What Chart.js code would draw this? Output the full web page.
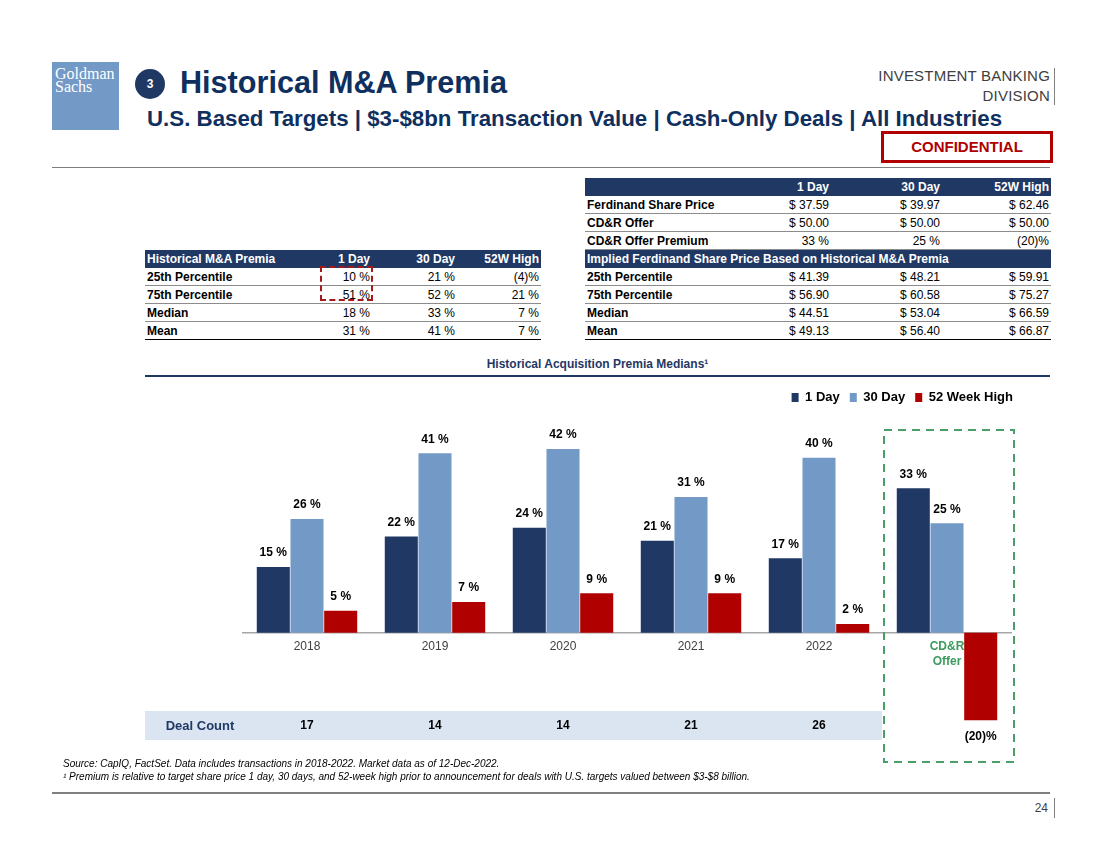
<!DOCTYPE html>
<html>
<head>
<meta charset="utf-8">
<script src="https://cdn.jsdelivr.net/npm/chart.js@4.4.1/dist/chart.umd.min.js"></script>
<style>
  body { margin:0; width:1100px; height:849px; position:relative; background:#fff; overflow:hidden;
         font-family: Arial, "Liberation Sans", sans-serif; color:#000; }
  .abs { position:absolute; }
  .logo { left:52px; top:62px; width:67px; height:68px; background:#7399c6; color:#fff;
          font-family:"Liberation Serif", serif; font-size:16px; line-height:13px; padding:5px 0 0 3px; box-sizing:border-box; }
  .badge { left:135px; top:69px; width:30px; height:30px; border-radius:50%; background:#1f3864; color:#fff;
           font-size:12px; font-weight:bold; text-align:center; line-height:30px; }
  .title { left:180px; top:65px; font-size:30.6px; font-weight:bold; color:#0f2f5f; white-space:nowrap; }
  .subtitle { left:147px; top:106px; font-size:22.3px; font-weight:bold; color:#0f2f5f; white-space:nowrap; }
  .ibd { right:50px; top:66px; text-align:right; font-size:15px; line-height:20px; color:#404040; letter-spacing:0.2px; }
  .ibd-bar { left:1054px; top:68px; width:1px; height:37px; background:#808080; }
  .conf { left:881px; top:131px; width:172px; height:32px; border:3px solid #b00000; box-sizing:border-box;
          color:#b00000; font-weight:bold; font-size:15px; text-align:center; line-height:26px; }
  .rule { left:52px; width:998px; height:1px; background:#7f7f7f; }
  table { border-collapse:collapse; font-size:12px; table-layout:fixed; }
  td { height:17px; padding:0 2px; white-space:nowrap; border-bottom:1px solid #8c8c8c; }
  td.num { text-align:right; }
  td.lab { font-weight:bold; }
  tr.head td { background:#1f3864; color:#fff; font-weight:bold; border-bottom:1px solid #1f3864; }
  tr.last td { border-bottom:1.5px solid #000; }
  .box-red { left:320px; top:266px; width:53px; height:35px; border:2px dashed #a31a1a; box-sizing:border-box; }
  .ctitle { left:145px; width:905px; top:357px; text-align:center; font-size:12px; font-weight:bold; color:#1f3864; }
  .cline { left:145px; top:375px; width:905px; height:2px; background:#1f3864; }
  .chartbox { left:140px; top:370px; width:883px; height:400px; }
  .foot { left:63px; font-size:10px; font-style:italic; white-space:nowrap; color:#000; }
  .pnum { left:1000px; width:48px; top:801px; text-align:right; font-size:12px; color:#404040; }
  .pbar { left:1054px; top:798px; width:1px; height:20px; background:#808080; }
</style>
</head>
<body>
<div class="abs logo">Goldman<br>Sachs</div>
<div class="abs badge">3</div>
<div class="abs title">Historical M&amp;A Premia</div>
<div class="abs subtitle">U.S. Based Targets | $3-$8bn Transaction Value | Cash-Only Deals | All Industries</div>
<div class="abs ibd">INVESTMENT BANKING<br>DIVISION</div>
<div class="abs ibd-bar"></div>
<div class="abs conf">CONFIDENTIAL</div>
<div class="abs rule" style="top:167px"></div>

<table class="abs" id="leftTable" style="left:145px; top:250px; width:396px;">
  <colgroup><col style="width:175px"><col style="width:52px"><col style="width:85px"><col style="width:84px"></colgroup>
</table>
<div class="abs box-red"></div>

<table class="abs" id="rightTable" style="left:585px; top:178px; width:466px;">
  <colgroup><col style="width:135px"><col style="width:111px"><col style="width:111px"><col style="width:109px"></colgroup>
</table>

<div class="abs ctitle">Historical Acquisition Premia Medians¹</div>
<div class="abs cline"></div>

<div class="abs chartbox"><canvas id="premiaChart"></canvas></div>

<div class="abs foot" style="top:758px">Source: CapIQ, FactSet. Data includes transactions in 2018-2022. Market data as of 12-Dec-2022.</div>
<div class="abs foot" style="top:771px">¹ Premium is relative to target share price 1 day, 30 days, and 52-week high prior to announcement for deals with U.S. targets valued between $3-$8 billion.</div>
<div class="abs rule" style="top:792px; height:2px; background:#808080"></div>
<div class="abs pnum">24</div>
<div class="abs pbar"></div>

<script>
// chart data
const years = ['2018', '2019', '2020', '2021', '2022', ['CD&R', 'Offer']];
const oneDay = [15, 22, 24, 21, 17, 33];
const thirtyDay = [26, 41, 42, 31, 40, 25];
const week52High = [5, 7, 9, 9, 2, -20];
const dealCounts = [17, 14, 14, 21, 26];

// left table
const premiaCols = ['1 Day', '30 Day', '52W High'];
const premiaRows = ['25th Percentile', '75th Percentile', 'Median', 'Mean'];
const premia1Day = ['10 %', '51 %', '18 %', '31 %'];
const premia30Day = ['21 %', '52 %', '33 %', '41 %'];
const premia52W = ['(4)%', '21 %', '7 %', '7 %'];

// right table
const offerRows = ['Ferdinand Share Price', 'CD&R Offer', 'CD&R Offer Premium'];
const offer1Day = ['$ 37.59', '$ 50.00', '33 %'];
const offer30Day = ['$ 39.97', '$ 50.00', '25 %'];
const offer52W = ['$ 62.46', '$ 50.00', '(20)%'];
const impliedRows = ['25th Percentile', '75th Percentile', 'Median', 'Mean'];
const implied1Day = ['$ 41.39', '$ 56.90', '$ 44.51', '$ 49.13'];
const implied30Day = ['$ 48.21', '$ 60.58', '$ 53.04', '$ 56.40'];
const implied52W = ['$ 59.91', '$ 75.27', '$ 66.59', '$ 66.87'];

function row(cells, cls) {
    const tr = document.createElement('tr');
    if (cls) tr.className = cls;
    cells.forEach(function(c, i) {
        const td = document.createElement('td');
        td.textContent = c;
        td.className = i === 0 ? 'lab' : 'num';
        tr.appendChild(td);
    });
    return tr;
}

const lt = document.getElementById('leftTable');
lt.appendChild(row(['Historical M&A Premia'].concat(premiaCols), 'head'));
premiaRows.forEach(function(r, i) {
    lt.appendChild(row([r, premia1Day[i], premia30Day[i], premia52W[i]], i === premiaRows.length - 1 ? 'last' : ''));
});

const rt = document.getElementById('rightTable');
rt.appendChild(row([''].concat(premiaCols), 'head'));
offerRows.forEach(function(r, i) {
    rt.appendChild(row([r, offer1Day[i], offer30Day[i], offer52W[i]]));
});
const sub = document.createElement('tr');
sub.className = 'head';
const subTd = document.createElement('td');
subTd.colSpan = 4;
subTd.textContent = 'Implied Ferdinand Share Price Based on Historical M&A Premia';
sub.appendChild(subTd);
rt.appendChild(sub);
impliedRows.forEach(function(r, i) {
    rt.appendChild(row([r, implied1Day[i], implied30Day[i], implied52W[i]], i === impliedRows.length - 1 ? 'last' : ''));
});

function pct(v) {
    return v < 0 ? '(' + (-v) + ')%' : v + ' %';
}

const slideExtras = {
    id: 'slideExtras',
    beforeDraw(chart) {
        const ctx = chart.ctx;
        const x = chart.scales.x;
        const half = (x.getPixelForValue(1) - x.getPixelForValue(0)) / 2;
        const bandRight = x.getPixelForValue(5) - half;
        ctx.save();
        ctx.fillStyle = '#dbe5f1';
        ctx.fillRect(5, 341, bandRight - 6, 29);
        ctx.textAlign = 'center';
        ctx.textBaseline = 'middle';
        ctx.fillStyle = '#1f3864';
        ctx.font = 'bold 13px Arial, "Liberation Sans"';
        ctx.fillText('Deal Count', 60, 356);
        ctx.fillStyle = '#000';
        ctx.font = 'bold 12px Arial, "Liberation Sans"';
        dealCounts.forEach(function(c, i) {
            ctx.fillText(String(c), x.getPixelForValue(i), 356);
        });
        ctx.restore();
    },
    afterDatasetsDraw(chart) {
        const ctx = chart.ctx;
        const x = chart.scales.x;
        ctx.save();
        ctx.font = 'bold 12px Arial, "Liberation Sans"';
        ctx.fillStyle = '#000';
        ctx.textAlign = 'center';
        ctx.textBaseline = 'middle';
        chart.data.datasets.forEach(function(ds, di) {
            chart.getDatasetMeta(di).data.forEach(function(bar, i) {
                const v = ds.data[i];
                ctx.fillText(pct(v), bar.x, v < 0 ? bar.y + 17 : bar.y - 14);
            });
        });
        // dashed box round the offer group
        const half = (x.getPixelForValue(1) - x.getPixelForValue(0)) / 2;
        const cx = x.getPixelForValue(5);
        ctx.strokeStyle = '#4a9e68';
        ctx.lineWidth = 2;
        ctx.setLineDash([8, 6]);
        ctx.strokeRect(cx - half + 1, 60, 2 * half + 2, 332);
        ctx.restore();
    }
};

Chart.defaults.font.family = 'Arial, "Liberation Sans", sans-serif';

new Chart(document.getElementById('premiaChart'), {
    type: 'bar',
    data: {
        labels: years,
        datasets: [
            { label: '1 Day', data: oneDay, backgroundColor: '#1f3864' },
            { label: '30 Day', data: thirtyDay, backgroundColor: '#7399c6' },
            { label: '52 Week High', data: week52High, backgroundColor: '#b00000' }
        ]
    },
    options: {
        responsive: true,
        maintainAspectRatio: false,
        animation: false,
        categoryPercentage: 0.79,
        barPercentage: 0.98,
        layout: { padding: { top: 11, left: 103, right: 0, bottom: 28 } },
        plugins: {
            legend: {
                position: 'top',
                align: 'end',
                labels: {
                    boxWidth: 7,
                    boxHeight: 9,
                    padding: 10,
                    color: '#000',
                    font: { size: 13, weight: 'bold' }
                }
            },
            tooltip: { enabled: false }
        },
        scales: {
            x: {
                position: { y: 0 },
                grid: { display: false, drawTicks: false },
                border: { color: '#a6a6a6', width: 1.5 },
                ticks: {
                    padding: 7,
                    color: function(c) { return c.index === 5 ? '#3d9b5f' : '#404040'; },
                    font: function(c) { return c.index === 5 ? { size: 12, weight: 'bold' } : { size: 12 }; }
                }
            },
            y: { display: false, min: -25, max: 50 },
            // empty right strip so the legend can run past the plot edge
            spacer: {
                axis: 'y',
                position: 'right',
                grid: { display: false },
                border: { display: false },
                ticks: { display: false },
                afterFit: function(scale) { scale.width = 12; }
            }
        }
    },
    plugins: [slideExtras]
});
</script>
</body>
</html>
